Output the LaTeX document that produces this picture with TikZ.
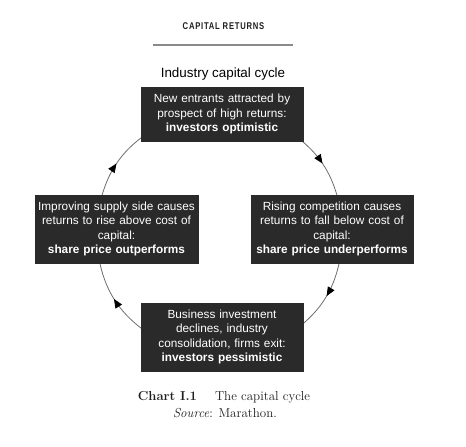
\documentclass[tikz,border=0pt]{standalone}
\usepackage{fontspec}
\usepackage{graphicx}
\newfontfamily\arial{Liberation Sans}
\usetikzlibrary{arrows.meta,decorations.markings}
\definecolor{boxfill}{HTML}{2A2A2A}
\definecolor{inkc}{HTML}{1E1E1E}
\definecolor{arcc}{HTML}{6E6E6E}
\definecolor{rulec}{HTML}{8A8A8A}
\begin{document}
\begin{tikzpicture}[x=1pt,y=1pt,
  cbox/.style={fill=boxfill, draw=boxfill, text=white, align=center,
    inner sep=1.5pt, font=\arial\fontsize{11.8}{14.5}\selectfont},
  cyc/.style={draw=arcc, line width=0.8pt, postaction={decorate},
    decoration={markings, mark=at position 0.5 with {\arrow[black]{Triangle[length=9pt,width=7.5pt]}}}},
  capt/.style={text=inkc, font=\fontsize{13}{16}\selectfont}
]
\fill[white] (0,0) rectangle (466,447);
\useasboundingbox (0,0) rectangle (466,447);

% header
\node[text=inkc, inner sep=0pt] (title) at (223.5,420.5)
  {\scalebox{0.78}[1]{\fontsize{9.8}{10}\arial\bfseries\addfontfeature{LetterSpace=10}CAPITAL RETURNS}};
\coordinate (rl) at (153,402);
\coordinate (rr) at (293,402);
\draw[rulec, line width=1.3pt] (rl) -- (rr);

\node[text=black, inner sep=0pt, font=\arial\fontsize{13.4}{16}\selectfont] (cyctitle) at (223,372.5) {Industry capital cycle};

% cycle arcs
\coordinate (O) at (219.5,214);
\coordinate (a1) at ([shift={(170:123)}]O);
\coordinate (a2) at ([shift={(122:123)}]O);
\coordinate (b1) at ([shift={(58:123)}]O);
\coordinate (b2) at ([shift={(10:123)}]O);
\coordinate (c1) at ([shift={(-6:123)}]O);
\coordinate (c2) at ([shift={(-55:123)}]O);
\coordinate (d1) at ([shift={(238:123)}]O);
\coordinate (d2) at ([shift={(186:123)}]O);
\draw[cyc] (a1) to[bend left=24] (a2);
\draw[cyc] (b1) to[bend left=24] (b2);
\draw[cyc] (c1) to[bend left=24.5] (c2);
\draw[cyc] (d1) to[bend left=26] (d2);

% boxes
\node[cbox, minimum width=162pt, minimum height=54pt, text width=159pt] (T) at (222,333)
  {New entrants attracted by\\prospect of high returns:\\\textbf{investors optimistic}};
\node[cbox, minimum width=163pt, minimum height=68pt, text width=160pt] (L) at (116.5,218)
  {Improving supply side causes\\returns to rise above cost of\\capital:\\\textbf{share price outperforms}};
\node[cbox, minimum width=162pt, minimum height=68pt, text width=159pt] (R) at (332,218)
  {Rising competition causes\\returns to fall below cost of\\capital:\\\textbf{share price underperforms}};
\node[cbox, minimum width=162pt, minimum height=68pt, text width=159pt] (B) at (222,110)
  {Business investment\\declines, industry\\consolidation, firms exit:\\\textbf{investors pessimistic}};

% caption
\node[capt, anchor=base, inner sep=0pt] (cap1) at (224,46)
  {\textbf{Chart I.1}\hspace{18pt}The capital cycle};
\node[capt, anchor=base, inner sep=0pt] (cap2) at (225,29)
  {\textit{Source}: Marathon.};
\end{tikzpicture}
\end{document}
